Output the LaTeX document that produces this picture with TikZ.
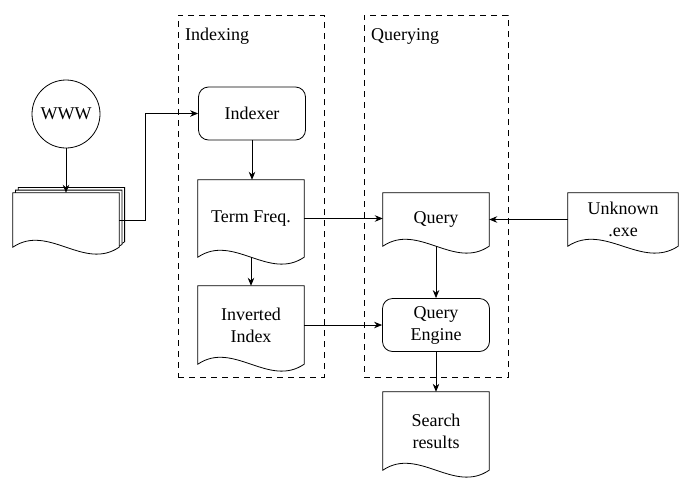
\documentclass[tikz,border=0pt]{standalone}
\usepackage{fontspec}
\setmainfont{Liberation Serif}
\usetikzlibrary{arrows.meta,calc}

% document outline: flat top, wavy bottom
\newcommand\docoutline[1]{%
  \filldraw[docline] (#1.north west) -- (#1.north east) -- (#1.south east)
    .. controls ($(#1.south east)!1/3!(#1.south west)+(0,24)$)
       and ($(#1.south east)!2/3!(#1.south west)+(0,-24)$) .. (#1.south west) -- cycle;}

\begin{document}
\begin{tikzpicture}[x=1pt,y=-1pt,
  every node/.style={font=\fontsize{18}{22}\selectfont, inner sep=0pt, align=center},
  docline/.style={draw=black, fill=white, line width=0.8pt},
  docbox/.style={rectangle, minimum width=106pt},
  procbox/.style={rectangle, rounded corners=10pt, draw, line width=0.8pt,
    minimum width=107pt, minimum height=53pt},
  frame/.style={rectangle, draw, line width=0.8pt, dash pattern=on 6pt off 5pt},
  conn/.style={line width=0.8pt, -{Stealth[length=8pt,width=6.5pt]}},
  link/.style={line width=0.8pt}]

\useasboundingbox (0,0) rectangle (682,477);

% phase frames
\node[frame, minimum width=146pt, minimum height=362pt] (idxframe) at (251,196) {};
\node[frame, minimum width=144pt, minimum height=362pt] (qryframe) at (436,196) {};
\node[anchor=west] (idxlabel) at (185,36) {Indexing};
\node[anchor=west] (qrylabel) at (371,36) {Querying};

% web source and crawled pages
\node[circle, draw, line width=0.8pt, minimum size=68pt] (www) at (66,114) {WWW};
\node[docbox, minimum height=54pt] (md3) at (71.4,214.6) {};
\node[docbox, minimum height=54pt] (md2) at (68.7,217.3) {};
\node[docbox, minimum height=54pt] (md) at (66,220) {};
\docoutline{md3}
\docoutline{md2}
\docoutline{md}

% indexing side
\node[procbox] (ix) at (252,113.5) {Indexer};
\node[docbox, minimum height=77pt] (tf) at (251,218.5) {};
\docoutline{tf}
\node at (tf) {Term Freq.};
\node[docbox, minimum height=78pt] (ii) at (251,325) {};
\docoutline{ii}
\node at (ii) {Inverted\\Index};

% querying side
\node[docbox, minimum height=53pt] (q) at (436,219.5) {};
\docoutline{q}
\node at (q) {Query};
\node[procbox] (qe) at (436,325) {Query\\Engine};
\node[docbox, minimum height=78pt] (sr) at (436,431) {};
\docoutline{sr}
\node at (sr) {Search\\results};
\node[docbox, minimum width=110pt, minimum height=53pt] (un) at (623,219.5) {};
\docoutline{un}
\node at (un) {Unknown\\.exe};

% connectors
\draw[conn] (www) -- (md.north);
\draw[conn] (md.east) -- ++(26,0) |- (ix.west);
\draw[conn] (ix.south) -- (tf.north -| ix.south);
\draw[conn] (tf.south) -- (ii.north);
\draw[conn] (tf.east) -- (q.west |- tf.east);
\draw[conn] (un.west) -- (q.east);
\draw[conn] (q.south) -- (qe.north);
\draw[conn] (ii.east) -- (qe.west);
\draw[conn] (qe.south) -- (sr.north);
\end{tikzpicture}
\end{document}
